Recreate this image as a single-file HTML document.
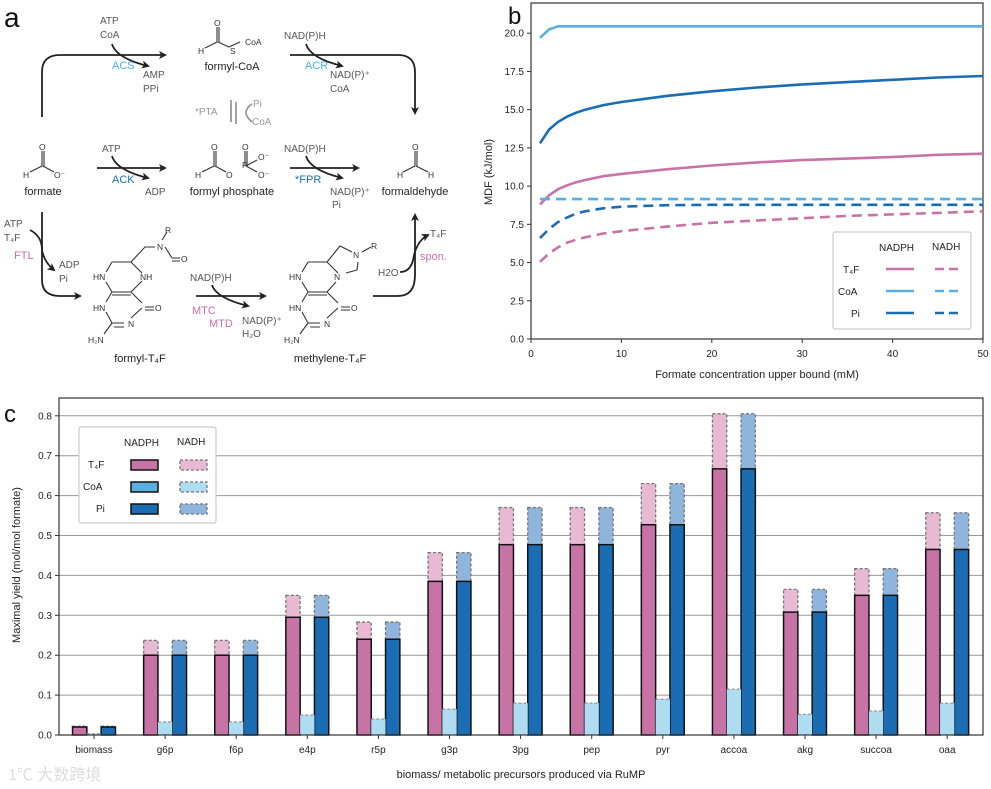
<!DOCTYPE html>
<html><head><meta charset="utf-8">
<style>
html,body{margin:0;padding:0;background:#fff;}
svg{display:block;font-family:"Liberation Sans",Arial,sans-serif;}
.g{fill:#555;font-size:10px;}
.lab{fill:#222;font-size:11px;}
</style></head>
<body>
<svg id="fig" width="991" height="789" viewBox="0 0 991 789">
<defs>
<marker id="ah" markerWidth="8" markerHeight="8" refX="6" refY="4" orient="auto" markerUnits="userSpaceOnUse"><path d="M0,0 L8,4 L0,8 L2,4 Z" fill="#222"/></marker>
</defs>
<!-- Panel a -->
<g id="panel-a">
<text x="4" y="27" font-size="28" fill="#111">a</text>
<g fill="none" stroke="#222" stroke-width="1.8">
<path d="M42,117 V72 Q42,55 60,55 H165" marker-end="url(#ah)"/>
<path d="M290,55 H398 Q415,55 415,72 V113" marker-end="url(#ah)"/>
<path d="M112,44 Q116,58 148,66" marker-end="url(#ah)"/>
<path d="M306,44 Q310,58 342,66" marker-end="url(#ah)"/>
<path d="M97,168 H165" marker-end="url(#ah)"/>
<path d="M112,156 Q116,170 148,178" marker-end="url(#ah)"/>
<path d="M290,168 H358" marker-end="url(#ah)"/>
<path d="M306,156 Q310,170 342,178" marker-end="url(#ah)"/>
<path d="M42,212 V280 Q42,296 60,296 H80" marker-end="url(#ah)"/>
<path d="M30,230 Q42,236 42,250 Q44,262 54,270" marker-end="url(#ah)"/>
<path d="M196,296 H265" marker-end="url(#ah)"/>
<path d="M212,285 Q216,298 248,306" marker-end="url(#ah)"/>
<path d="M373,296 H398 Q415,296 415,275 V215" marker-end="url(#ah)"/>
<path d="M400,272 Q412,272 414,255 Q418,240 428,235" marker-end="url(#ah)"/>
</g>
<g stroke="#999" stroke-width="1.8" fill="none"><path d="M231,100 V122"/><path d="M236,102 V124"/><path d="M252,104 Q240,112 252,122"/></g>
<g class="g">
<text x="100" y="24">ATP</text><text x="100" y="38">CoA</text>
<text x="143" y="78">AMP</text><text x="143" y="92">PPi</text>
<text x="284" y="39">NAD(P)H</text>
<text x="330" y="78">NAD(P)⁺</text><text x="330" y="92">CoA</text>
<text x="102" y="152">ATP</text><text x="145" y="195">ADP</text>
<text x="284" y="152">NAD(P)H</text>
<text x="330" y="195">NAD(P)⁺</text><text x="332" y="208">Pi</text>
<text x="4" y="227">ATP</text><text x="4" y="241">T₄F</text>
<text x="59" y="268">ADP</text><text x="59" y="282">Pi</text>
<text x="190" y="281">NAD(P)H</text>
<text x="242" y="324">NAD(P)⁺</text><text x="242" y="337">H₂O</text>
<text x="378" y="276">H2O</text><text x="430" y="237">T₄F</text>
</g>
<g fill="#999" font-size="10"><text x="195" y="115">*PTA</text><text x="253" y="107">Pi</text><text x="252" y="125">CoA</text></g>
<g font-size="11"><text x="112" y="69" fill="#4aaee3">ACS</text><text x="305" y="69" fill="#4aaee3">ACR</text>
<text x="112" y="183" fill="#1d6fb0">ACK</text><text x="295" y="183" fill="#1d6fb0">*FPR</text>
<text x="14" y="259" fill="#cc6fa7">FTL</text><text x="192" y="314" fill="#cc6fa7">MTC</text><text x="209" y="327" fill="#cc6fa7">MTD</text>
<text x="420" y="260" fill="#cc6fa7">spon.</text></g>
<g class="lab" text-anchor="middle">
<text x="232" y="70">formyl-CoA</text><text x="43" y="195">formate</text>
<text x="232" y="195">formyl phosphate</text><text x="415" y="195">formaldehyde</text>
<text x="140" y="362">formyl-T₄F</text><text x="330" y="362">methylene-T₄F</text>
</g>
<g stroke="#333" stroke-width="1.1" fill="none">
<path d="M217,27 V42 L205,48 M219,27 V42 M218,42 L229,47 L240,42"/>
<path d="M42,151 V166 L30,172 M44,151 V166 M43,166 L54,172"/>
<path d="M214,151 V166 L202,172 M216,151 V166 M215,166 L226,172 M245,151 V166 M247,151 V166 M246,166 L257,160 M246,166 L257,172"/>
<path d="M415,151 V166 L403,172 M417,151 V166 M416,166 L428,172"/>
<path d="M112,262 L131,262 L142,273 M131,292 L142,281 M112,262 L106,272 M112,292 L106,282 M112,292 L131,292 M112,295 L131,295 M112,292 L106,302 M131,292 L142,303 M142,308 L131,318 M112,323 L106,312 M112,323 L124,323 M114,327 L124,327 M112,323 L104,334 M145,307 L154,307 M145,310 L154,310 M131,262 L145,247 L155,247 M165,247 L172,258 L180,258 M172,261 L180,261 M162,240 L167,232"/>
<path d="M308,262 L327,262 L338,273 M327,292 L336,282 M308,262 L302,272 M308,292 L302,282 M308,292 L327,292 M308,295 L327,295 M308,292 L302,302 M327,292 L338,303 M338,308 L327,318 M308,323 L302,312 M308,323 L320,323 M310,327 L320,327 M308,323 L300,334 M341,307 L350,307 M341,310 L350,310 M327,262 L340,246 L352,252 M358,262 L357,270 L346,273 M362,252 L371,247"/>
</g>
<g fill="#333" font-size="8.5">
<text x="214" y="26">O</text><text x="198" y="54">H</text><text x="230" y="54">S</text><text x="245" y="45">CoA</text>
<text x="39" y="150">O</text><text x="23" y="178">H</text><text x="54" y="178">O⁻</text>
<text x="211" y="150">O</text><text x="242" y="150">O</text><text x="195" y="178">H</text><text x="226" y="178">O</text><text x="242" y="168">P</text><text x="258" y="160">O⁻</text><text x="258" y="178">O⁻</text>
<text x="412" y="150">O</text><text x="397" y="178">H</text><text x="428" y="178">H</text>
<text x="93" y="280">HN</text><text x="140" y="280">NH</text><text x="93" y="311">HN</text><text x="155" y="311">O</text><text x="128" y="327">N</text><text x="88" y="343">H₂N</text><text x="157" y="250">N</text><text x="165" y="233">R</text><text x="181" y="262">O</text>
<text x="289" y="280">HN</text><text x="334" y="280">N</text><text x="289" y="311">HN</text><text x="351" y="311">O</text><text x="324" y="327">N</text><text x="284" y="343">H₂N</text><text x="353" y="258">N</text><text x="371" y="249">R</text>
</g>
</g>

<!-- Panel b -->
<g id="panel-b">
<text x="508" y="24" font-size="24" fill="#111">b</text>
<rect x="531" y="3" width="452" height="336" fill="none" stroke="#333" stroke-width="1.2"/>
<g id="b-axes"></g>
<g id="b-lines"></g>
<text transform="translate(492,172) rotate(-90)" text-anchor="middle" font-size="11" fill="#222">MDF (kJ/mol)</text>
<text x="757" y="378" text-anchor="middle" font-size="11" fill="#222">Formate concentration upper bound (mM)</text>
<g>
<rect x="833" y="232" width="138" height="97" rx="2" fill="#fff" stroke="#ccc" stroke-width="1.2"/>
<text x="879" y="251" font-size="10" fill="#222">NADPH</text><text x="932" y="250" font-size="10" fill="#222">NADH</text>
<text x="843" y="273" font-size="10" fill="#222">T₄F</text><text x="838" y="295" font-size="10" fill="#222">CoA</text><text x="851" y="317" font-size="10" fill="#222">Pi</text>
<g stroke-width="2.6"><line x1="886" y1="269" x2="914" y2="269" stroke="#c873a6"/><line x1="935" y1="269" x2="963" y2="269" stroke="#c873a6" stroke-dasharray="9,5"/>
<line x1="886" y1="291" x2="914" y2="291" stroke="#5aafe0"/><line x1="935" y1="291" x2="963" y2="291" stroke="#5aafe0" stroke-dasharray="9,5"/>
<line x1="886" y1="313" x2="914" y2="313" stroke="#1a6db3"/><line x1="935" y1="313" x2="963" y2="313" stroke="#1a6db3" stroke-dasharray="9,5"/></g>
</g>
</g>

<!-- Panel c -->
<g id="panel-c">
<text x="4" y="422" font-size="24" fill="#111">c</text>
<g id="c-grid"></g>
<g id="c-bars"></g>
<rect x="59" y="398" width="924" height="337" fill="none" stroke="#333" stroke-width="1.2"/>
<g id="c-axes"></g>
<text transform="translate(20,565) rotate(-90)" text-anchor="middle" font-size="11" fill="#222">Maximal yield (mol/mol formate)</text>
<text x="521" y="778" text-anchor="middle" font-size="11" fill="#222">biomass/ metabolic precursors produced via RuMP</text>
<g>
<rect x="79" y="427" width="137" height="96" rx="2" fill="#fff" stroke="#ccc" stroke-width="1.2"/>
<text x="124" y="446" font-size="10" fill="#222">NADPH</text><text x="177" y="445" font-size="10" fill="#222">NADH</text>
<text x="88" y="468" font-size="10" fill="#222">T₄F</text><text x="83" y="490" font-size="10" fill="#222">CoA</text><text x="96" y="512" font-size="10" fill="#222">Pi</text>
<rect x="131" y="460" width="27" height="10" fill="#c873a6" stroke="#111" stroke-width="1.5"/>
<rect x="131" y="482" width="27" height="10" fill="#5aafe0" stroke="#111" stroke-width="1.5"/>
<rect x="131" y="504" width="27" height="10" fill="#1a6db3" stroke="#111" stroke-width="1.5"/>
<rect x="180" y="460" width="27" height="10" fill="#e8b9d3" stroke="#777" stroke-width="1.3" stroke-dasharray="3,2"/>
<rect x="180" y="482" width="27" height="10" fill="#b0dcf2" stroke="#777" stroke-width="1.3" stroke-dasharray="3,2"/>
<rect x="180" y="504" width="27" height="10" fill="#8fb5dc" stroke="#777" stroke-width="1.3" stroke-dasharray="3,2"/>
</g>
<text x="8" y="780" font-size="16" fill="#ddd">1℃ 大数跨境</text>
</g>
</svg>
<script>
// ---- Panel b data ----
const bX = [1,2,3,4,5,6,8,10,15,20,25,30,35,40,45,50];
const coaNadph = [19.7,20.25,20.45,20.45,20.45,20.45,20.45,20.45,20.45,20.45,20.45,20.45,20.45,20.45,20.45,20.45];
const piNadph = [12.8,13.7,14.2,14.55,14.8,15.0,15.3,15.5,15.9,16.2,16.45,16.65,16.8,16.95,17.1,17.2];
const t4fNadph = [8.8,9.4,9.8,10.05,10.25,10.4,10.65,10.8,11.1,11.35,11.55,11.7,11.8,11.9,12.05,12.12];
const coaNadh = [9.15,9.15,9.15,9.15,9.15,9.15,9.15,9.15,9.15,9.15,9.15,9.15,9.15,9.15,9.15,9.15];
const piNadh = [6.6,7.2,7.65,7.95,8.2,8.35,8.55,8.65,8.75,8.78,8.78,8.78,8.78,8.78,8.78,8.78];
const t4fNadh = [5.05,5.6,6.0,6.3,6.5,6.65,6.9,7.05,7.35,7.6,7.75,7.9,8.05,8.15,8.25,8.35];
const bYTicks = [0,2.5,5,7.5,10,12.5,15,17.5,20];
const bXTicks = [0,10,20,30,40,50];
// ---- Panel c data ----
const cats = ["biomass","g6p","f6p","e4p","r5p","g3p","3pg","pep","pyr","accoa","akg","succoa","oaa"];
const nadphYield = [0.02,0.2,0.2,0.295,0.24,0.385,0.477,0.477,0.527,0.667,0.308,0.35,0.465];
const nadhYield = [0.022,0.237,0.237,0.35,0.283,0.457,0.57,0.57,0.63,0.805,0.365,0.417,0.557];
const coaYield = [0.003,0.033,0.033,0.05,0.04,0.065,0.08,0.08,0.09,0.115,0.052,0.06,0.08];
const cYTicks = [0,0.1,0.2,0.3,0.4,0.5,0.6,0.7,0.8];

const NS="http://www.w3.org/2000/svg";
function mk(tag,attrs,parent){const e=document.createElementNS(NS,tag);for(const k in attrs)e.setAttribute(k,attrs[k]);parent.appendChild(e);return e;}
const bx=v=>531+v*(452/50), by=v=>339-v*15.29;
const bAx=document.getElementById('b-axes'), bL=document.getElementById('b-lines');
bYTicks.forEach(t=>{const y=by(t);
 const l=mk('line',{x1:527,x2:531,y1:y,y2:y,stroke:'#333'},bAx);
 
 
 const tx=mk('text',{x:524,y:y+3.5,'text-anchor':'end','font-size':10,fill:'#222'},bAx);tx.textContent=t.toFixed(1);
 
 });
bXTicks.forEach(t=>{const x=bx(t);
 const l=mk('line',{x1:x,x2:x,y1:339,y2:343,stroke:'#333'},bAx);
 
 
 const tx=mk('text',{x:x,y:357,'text-anchor':'middle','font-size':10,fill:'#222'},bAx);tx.textContent=t;
 
 });
function line(vals,color,dash,name){
 const d=vals.map((v,i)=>(i?'L':'M')+bx(bX[i]).toFixed(1)+','+by(v).toFixed(1)).join(' ');
 const p=mk('path',{d:d,fill:'none',stroke:color,'stroke-width':2.6},bL);
 if(dash)p.setAttribute('stroke-dasharray','10,6');
 
 }
line(coaNadph,'#5aafe0',false,'line-coa-nadph');
line(piNadph,'#1a6db3',false,'line-pi-nadph');
line(t4fNadph,'#c873a6',false,'line-t4f-nadph');
line(coaNadh,'#5aafe0',true,'line-coa-nadh');
line(piNadh,'#1a6db3',true,'line-pi-nadh');
line(t4fNadh,'#c873a6',true,'line-t4f-nadh');

const cy=v=>735-v*399, cx=i=>94+i*71.1;
const cG=document.getElementById('c-grid'), cB=document.getElementById('c-bars'), cA=document.getElementById('c-axes');
cYTicks.forEach(t=>{const y=cy(t);
 const g=mk('line',{x1:59,x2:983,y1:y,y2:y,stroke:'#999','stroke-width':1},cG);
 
 
 const l=mk('line',{x1:55,x2:59,y1:y,y2:y,stroke:'#333'},cA);
 
 
 const tx=mk('text',{x:52,y:y+3.5,'text-anchor':'end','font-size':10,fill:'#222'},cA);tx.textContent=t.toFixed(1);
 
 });
const W=14.3;
cats.forEach((c,i)=>{const x=cx(i);
 [[x-1.5*W,'#e8b9d3','#c873a6','t4f'],[x+0.5*W,'#8fb5dc','#1a6db3','pi']].forEach(([x0,lc,dc,nm])=>{
  const a=mk('rect',{x:x0,y:cy(nadhYield[i]),width:W,height:cy(nadphYield[i])-cy(nadhYield[i]),fill:lc,stroke:'#777','stroke-width':1.3,'stroke-dasharray':'3,2'},cB);
  
  
  const b=mk('rect',{x:x0,y:cy(nadphYield[i]),width:W,height:735-cy(nadphYield[i]),fill:dc,stroke:'#111','stroke-width':1.5},cB);
  
  });
 const k=mk('rect',{x:x-0.5*W,y:cy(coaYield[i]),width:W,height:735-cy(coaYield[i]),fill:'#b0dcf2'},cB);
 
 
 const kt=mk('line',{x1:x-0.5*W,x2:x+0.5*W,y1:cy(coaYield[i]),y2:cy(coaYield[i]),stroke:'#888','stroke-dasharray':'3,2'},cB);
 
 
 const l=mk('line',{x1:x,x2:x,y1:735,y2:739,stroke:'#333'},cA);
 
 
 const tx=mk('text',{x:x,y:753,'text-anchor':'middle','font-size':10,fill:'#222'},cA);tx.textContent=c;
 
 });
</script>
</body></html>
